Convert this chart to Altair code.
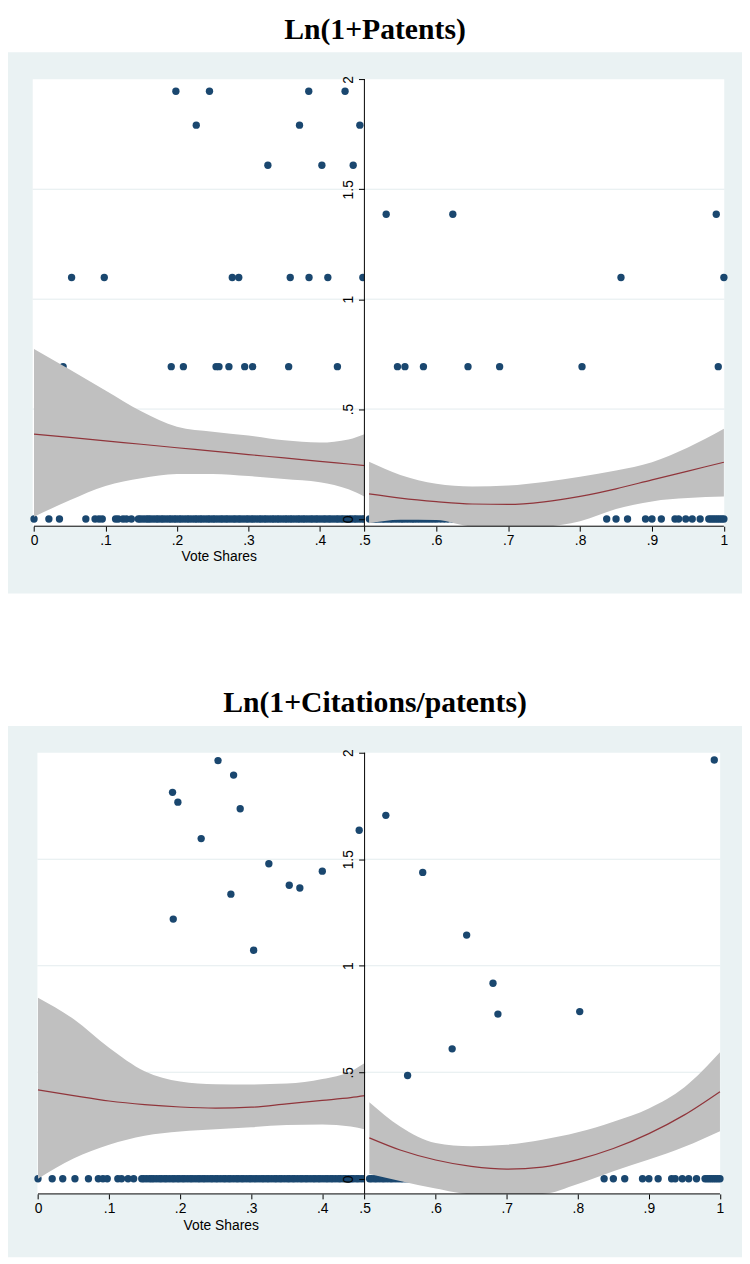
import altair as alt
import pandas as pd

# ---------------- data ----------------
TICKS_X_LEFT = [0, 0.1, 0.2, 0.3, 0.4]
TICKS_X_RIGHT = [0.5, 0.6, 0.7, 0.8, 0.9, 1.0]
TICKS_Y = [0, 0.5, 1, 1.5, 2]
GRID_Y = [0.5, 1, 1.5]

# zero-valued observations (shared by both outcomes)
DENSE_LEFT = [0.146, 0.149, 0.153, 0.157, 0.160, 0.163, 0.167, 0.171, 0.174, 0.178,
              0.181, 0.185, 0.189, 0.192, 0.196, 0.199, 0.203, 0.206, 0.210, 0.214,
              0.217, 0.221, 0.225, 0.228, 0.232, 0.235, 0.239, 0.243, 0.246, 0.250,
              0.253, 0.257, 0.261, 0.264, 0.268, 0.271, 0.275, 0.279, 0.282, 0.286,
              0.289, 0.293, 0.297, 0.300, 0.304, 0.307, 0.311, 0.315, 0.318, 0.322,
              0.325, 0.329, 0.333, 0.336, 0.340, 0.343, 0.347, 0.351, 0.354, 0.358,
              0.361, 0.365, 0.369, 0.372, 0.376, 0.379, 0.383, 0.387, 0.390, 0.394,
              0.397, 0.401, 0.405, 0.408, 0.412, 0.415, 0.419, 0.423, 0.426, 0.430,
              0.433, 0.437, 0.441, 0.444, 0.448, 0.451, 0.455, 0.459, 0.462]
DENSE_RIGHT = [0.507, 0.510, 0.514, 0.517, 0.521, 0.525, 0.528, 0.532, 0.536, 0.539,
               0.543, 0.547, 0.551, 0.554, 0.558, 0.562, 0.566, 0.569, 0.573, 0.577,
               0.581, 0.585, 0.589, 0.593, 0.597, 0.601, 0.606, 0.611, 0.616, 0.622,
               0.628, 0.655, 0.693, 0.731]
TAIL_RIGHT = [0.837, 0.850, 0.866, 0.891, 0.900, 0.913, 0.932, 0.937, 0.947, 0.956,
              0.967, 0.979, 0.982, 0.985, 0.988, 0.991, 0.994, 0.997, 1.0]

# Panel 1: Ln(1+Patents)
P1_ZERO_LEFT = [0, 0.0208, 0.0356, 0.0725, 0.0854, 0.0909, 0.0955, 0.1141, 0.1178,
                0.1246, 0.1293, 0.1362]
P1_LEFT_X = [0.1985, 0.2455, 0.3844, 0.4352,
             0.2270, 0.3715, 0.4559,
             0.3272, 0.4028, 0.4466,
             0.0526, 0.0983, 0.2774, 0.2865, 0.3585, 0.3848, 0.4111, 0.4601,
             0.0407, 0.1920, 0.2090, 0.2547, 0.2588, 0.2727, 0.2948, 0.3059, 0.3563, 0.4245]
P1_LEFT_Y = [1.9459, 1.9459, 1.9459, 1.9459,
             1.7918, 1.7918, 1.7918,
             1.6094, 1.6094, 1.6094,
             1.0986, 1.0986, 1.0986, 1.0986, 1.0986, 1.0986, 1.0986, 1.0986,
             0.6931, 0.6931, 0.6931, 0.6931, 0.6931, 0.6931, 0.6931, 0.6931, 0.6931, 0.6931]
P1_RIGHT_X = [0.5303, 0.6230, 0.9894,
              0.8569, 1.0,
              0.5460, 0.5564, 0.5821, 0.6441, 0.6881, 0.8027, 0.9922]
P1_RIGHT_Y = [1.3863, 1.3863, 1.3863,
              1.0986, 1.0986,
              0.6931, 0.6931, 0.6931, 0.6931, 0.6931, 0.6931, 0.6931]

P1_FIT_LEFT_X = [0, 0.05, 0.1, 0.15, 0.2, 0.25, 0.3, 0.35, 0.4, 0.44, 0.4633]
P1_FIT_LEFT = [0.386, 0.371, 0.355, 0.340, 0.324, 0.309, 0.293, 0.278, 0.262, 0.250, 0.243]
P1_HI_LEFT = [0.773, 0.680, 0.585, 0.490, 0.420, 0.397, 0.380, 0.358, 0.348, 0.362, 0.387]
P1_LO_LEFT = [0.010, 0.085, 0.150, 0.185, 0.205, 0.205, 0.195, 0.182, 0.167, 0.135, 0.100]

P1_FIT_RIGHT_X = [0.5065, 0.55, 0.6, 0.65, 0.7, 0.75, 0.8, 0.85, 0.9, 0.95, 1.0]
P1_FIT_RIGHT = [0.114, 0.095, 0.079, 0.068, 0.066, 0.078, 0.103, 0.137, 0.178, 0.218, 0.258]
P1_HI_RIGHT = [0.260, 0.200, 0.160, 0.148, 0.152, 0.168, 0.192, 0.220, 0.258, 0.325, 0.410]
P1_LO_RIGHT = [-0.020, -0.003, -0.005, -0.033, -0.033, -0.033, -0.010, 0.045, 0.080, 0.095, 0.102]

# Panel 2: Ln(1+Citations/patents)
P2_ZERO_LEFT = [0, 0.0200, 0.0348, 0.0520, 0.0710, 0.0849, 0.0914, 0.0974, 0.1123,
                0.1175, 0.1267, 0.1346]
P2_LEFT_X = [0.2533, 0.2752, 0.1893, 0.1968, 0.2845, 0.2296, 0.4519, 0.3248, 0.4000,
             0.3535, 0.3684, 0.2714, 0.1903, 0.3034]
P2_LEFT_Y = [1.963, 1.895, 1.814, 1.768, 1.737, 1.597, 1.636, 1.479, 1.444,
             1.378, 1.365, 1.336, 1.219, 1.073]
P2_RIGHT_X = [0.9920, 0.5299, 0.5818, 0.6436, 0.6807, 0.6876, 0.8027, 0.5605, 0.6232]
P2_RIGHT_Y = [1.966, 1.706, 1.438, 1.144, 0.918, 0.773, 0.785, 0.485, 0.610]

P2_FIT_LEFT_X = [0, 0.05, 0.1, 0.15, 0.2, 0.25, 0.3, 0.35, 0.4, 0.44, 0.4603]
P2_FIT_LEFT = [0.417, 0.390, 0.365, 0.348, 0.337, 0.332, 0.336, 0.352, 0.368, 0.381, 0.390]
P2_HI_LEFT = [0.850, 0.750, 0.615, 0.505, 0.457, 0.444, 0.443, 0.447, 0.468, 0.505, 0.545]
P2_LO_LEFT = [0.000, 0.095, 0.160, 0.202, 0.222, 0.232, 0.242, 0.252, 0.255, 0.245, 0.231]

P2_FIT_RIGHT_X = [0.5067, 0.55, 0.6, 0.65, 0.7, 0.75, 0.8, 0.85, 0.9, 0.95, 1.0]
P2_FIT_RIGHT = [0.192, 0.135, 0.088, 0.058, 0.045, 0.055, 0.090, 0.142, 0.212, 0.300, 0.409]
P2_HI_RIGHT = [0.359, 0.245, 0.168, 0.153, 0.160, 0.183, 0.218, 0.268, 0.330, 0.430, 0.594]
P2_LO_RIGHT = [0.022, -0.010, -0.045, -0.071, -0.071, -0.071, -0.025, 0.035, 0.090, 0.150, 0.223]

# ---------------- styles ----------------
BG = "#eaf2f3"
GRIDC = "#e3ecee"
NAVY = "#1a476f"
MAROON = "#90353b"
BANDC = "#c0c0c0"
SANS = "Liberation Sans"
SERIF = "Liberation Serif"
LBL = "replace(format(datum.value, '~g'), '0.', '.')"

G1 = dict(xL=[-0.0364, 0.9906], xR=[0.0043, 1.0252], y=[-0.3389, 2.1229], W=742, H=547,
          xl0=-0.0018, jL=0.4633, xr1=1.0005, yb=-0.0329, xoff=-68, yoff=-360.3,
          titleX=213, titleY=34.5)
G2 = dict(xL=[-0.0422, 0.9905], xR=[-0.0017, 1.031], y=[-0.3682, 2.1254], W=742, H=537,
          xl0=-0.0008, jL=0.4603, xr1=1.0003, yb=-0.071, xoff=-64, yoff=-360.5,
          titleX=215, titleY=35.5)


def x_axis(values, g, with_title):
    kw = dict(values=values, orient="bottom", offset=g["xoff"], domain=False, grid=False,
              ticks=True, tickSize=5, tickColor="black", tickWidth=1, labelExpr=LBL,
              labelFont=SANS, labelFontSize=14, labelColor="black", labelPadding=3,
              labelFlush=False, labelOverlap=False, zindex=2)
    if with_title:
        kw.update(title="Vote Shares", titleFont=SANS, titleFontSize=14,
                  titleFontWeight="normal", titleColor="black", titleX=g["titleX"],
                  titleY=g["titleY"], titleBaseline="alphabetic", titleAlign="center")
    else:
        kw.update(title=None)
    return alt.Axis(**kw)


def y_axis(g):
    return alt.Axis(values=TICKS_Y, orient="left", offset=g["yoff"], domain=False, grid=False,
                    tickSize=6, tickColor="black", tickWidth=1, labelAngle=270,
                    labelAlign="center", labelBaseline="bottom", labelPadding=3,
                    labelExpr=LBL, labelFont=SANS, labelFontSize=14, labelColor="black",
                    labelFlush=False, labelOverlap=False, title=None, zindex=2)


def half(g, sx, sy, xlo, xhi, px, py, zeros, fx, fit, lo, hi, is_right):
    yax = y_axis(g)

    def X(field="x"):
        return alt.X(f"{field}:Q", scale=sx, axis=None)

    def Y(field="y"):
        return alt.Y(f"{field}:Q", scale=sy, axis=yax)

    rect = alt.Chart(pd.DataFrame({"x": [xlo], "x2": [xhi], "y": [g["yb"]], "y2": [2.0]})).mark_rect(
        color="white").encode(x=X(), x2="x2:Q", y=Y(), y2="y2:Q")
    grid = alt.Chart(pd.DataFrame({"y": GRID_Y, "x": [xlo] * len(GRID_Y),
                                   "x2": [xhi] * len(GRID_Y)})).mark_rule(
        color=GRIDC, strokeWidth=1).encode(x=X(), x2="x2:Q", y=Y())
    pts = alt.Chart(pd.DataFrame({"x": px + zeros, "y": py + [0] * len(zeros)})).mark_circle(
        size=55, color=NAVY, opacity=1).encode(x=X(), y=Y())
    bdf = pd.DataFrame({"x": fx, "fit": fit, "lo": lo, "hi": hi})
    band = alt.Chart(bdf).transform_calculate(
        lo_c=f"max(datum.lo, {g['yb']})").mark_area(
        color=BANDC, opacity=1, interpolate="monotone").encode(x=X(), y=Y("lo_c"), y2="hi:Q")
    line = alt.Chart(bdf).mark_line(color=MAROON, strokeWidth=1.2,
                                    interpolate="monotone").encode(x=X(), y=Y("fit"))
    ax0 = 0.5 if is_right else 0.0
    ax1 = 1.0 if is_right else xhi
    xline = alt.Chart(pd.DataFrame({"x": [ax0], "x2": [ax1], "y": [g["yb"]]})).mark_rule(
        color="black", strokeWidth=1).encode(x=X(), x2="x2:Q", y=Y())
    # axis carrier: invisible marks at the axis values
    ticks = TICKS_X_RIGHT if is_right else TICKS_X_LEFT
    carrier_df = pd.DataFrame({"x": ticks, "y": [g["yb"]] * len(ticks)})
    carrier = alt.Chart(carrier_df).mark_point(opacity=0, size=1).encode(
        x=alt.X("x:Q", scale=sx, axis=x_axis(ticks, g, not is_right)), y=Y())
    layers = [rect, grid, pts, band, line, xline]
    if is_right:
        yline = alt.Chart(pd.DataFrame({"x": [0.5], "y": [g["yb"]], "y2": [2.0]})).mark_rule(
            color="black", strokeWidth=1).encode(x=X(), y=Y(), y2="y2:Q")
        layers.append(yline)
    layers.append(carrier)
    return layers


def panel(title, g, pl, pr):
    sxL = alt.Scale(domain=g["xL"], nice=False, zero=False)
    sxR = alt.Scale(domain=g["xR"], nice=False, zero=False)
    sy = alt.Scale(domain=g["y"], nice=False, zero=False)
    left = half(g, sxL, sy, g["xl0"], g["jL"], *pl, is_right=False)
    right = half(g, sxR, sy, 0.5, g["xr1"], *pr, is_right=True)
    return alt.layer(*(left + right)).resolve_scale(x="independent").properties(
        width=g["W"], height=g["H"],
        title=alt.TitleParams(text=title, font=SERIF, fontSize=30, fontWeight="bold",
                              color="black", offset=8, anchor="middle"))


p1 = panel("Ln(1+Patents)", G1,
           (P1_LEFT_X, P1_LEFT_Y, P1_ZERO_LEFT + DENSE_LEFT, P1_FIT_LEFT_X, P1_FIT_LEFT,
            P1_LO_LEFT, P1_HI_LEFT),
           (P1_RIGHT_X, P1_RIGHT_Y, DENSE_RIGHT + TAIL_RIGHT, P1_FIT_RIGHT_X, P1_FIT_RIGHT,
            P1_LO_RIGHT, P1_HI_RIGHT))
p2 = panel("Ln(1+Citations/patents)", G2,
           (P2_LEFT_X, P2_LEFT_Y, P2_ZERO_LEFT + DENSE_LEFT, P2_FIT_LEFT_X, P2_FIT_LEFT,
            P2_LO_LEFT, P2_HI_LEFT),
           (P2_RIGHT_X, P2_RIGHT_Y, DENSE_RIGHT + TAIL_RIGHT, P2_FIT_RIGHT_X, P2_FIT_RIGHT,
            P2_LO_RIGHT, P2_HI_RIGHT))

chart = alt.vconcat(p1, p2, spacing=96).properties(
    padding=0, background="white").configure_view(stroke=None, fill=BG)

chart.save("out.html", embed_options={"renderer": "svg", "actions": False})
